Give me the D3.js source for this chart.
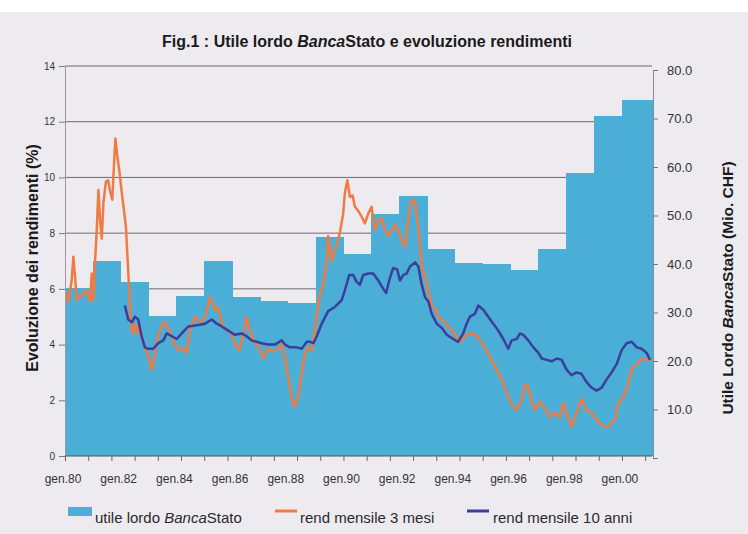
<!DOCTYPE html>
<html>
<head>
<meta charset="utf-8">
<script src="https://cdn.jsdelivr.net/npm/d3@7/dist/d3.min.js"></script>
<style>
  html, body { margin: 0; padding: 0; background: #efecf1; }
  svg { display: block; }
</style>
</head>
<body>
<svg id="chart" width="748" height="534"></svg>
<script>
// ---------- DATA ----------
const barYears = [1980,1981,1982,1983,1984,1985,1986,1987,1988,1989,1990,1991,1992,1993,1994,1995,1996,1997,1998,1999,2000];
const utileLordo = [35.1,40.6,36.3,29.3,33.4,40.6,33.2,32.4,32.0,45.6,42.1,50.3,54.0,43.1,40.2,40.0,38.8,43.1,58.8,70.5,73.8];

const r3Time = [1980.04,1980.12,1980.24,1980.30,1980.36,1980.42,1980.54,1980.66,1980.78,1980.84,1980.90,1980.96,
  1981.02,1981.08,1981.14,1981.20,1981.26,1981.32,1981.38,1981.47,1981.55,1981.62,1981.70,1981.76,1981.81,1981.88,1981.95,
  1982.04,1982.12,1982.19,1982.25,1982.30,1982.36,1982.43,1982.51,1982.60,1982.69,1982.79,1982.91,
  1983.03,1983.11,1983.20,1983.29,1983.41,1983.53,1983.65,1983.77,1983.91,
  1984.07,1984.23,1984.37,1984.49,1984.67,1984.85,
  1985.03,1985.21,1985.39,1985.49,1985.67,1985.92,
  1986.10,1986.25,1986.39,1986.52,1986.64,1986.82,
  1987.00,1987.11,1987.29,1987.47,1987.65,1987.78,1987.90,
  1988.01,1988.14,1988.23,1988.37,1988.50,1988.62,1988.73,1988.86,1988.98,
  1989.16,1989.26,1989.40,1989.45,1989.58,1989.62,1989.76,1989.87,1989.99,
  1990.05,1990.14,1990.23,1990.33,1990.41,1990.53,1990.65,1990.77,1990.89,
  1991.01,1991.13,1991.25,1991.37,1991.49,1991.61,1991.73,1991.85,1991.97,
  1992.09,1992.21,1992.33,1992.45,1992.57,1992.69,1992.81,1992.93,
  1993.05,1993.17,1993.29,1993.40,1993.53,1993.65,1993.94,
  1994.18,1994.42,1994.66,1994.90,
  1995.08,1995.26,1995.50,1995.68,1995.86,
  1996.04,1996.22,1996.40,1996.52,1996.64,1996.76,1996.88,
  1997.06,1997.24,1997.42,1997.59,1997.77,1997.89,
  1998.01,1998.19,1998.37,1998.55,1998.73,1998.91,
  1999.03,1999.21,1999.39,1999.57,1999.75,1999.87,
  2000.05,2000.23,2000.35,2000.53,2000.77,2000.94,2001.01];
const r3Val = [5.85,5.55,6.3,7.15,6.45,5.6,5.7,5.85,5.95,5.7,5.55,6.55,
  5.6,7.0,8.1,9.55,8.45,7.8,9.1,9.85,9.9,9.5,9.2,10.5,11.4,10.75,10.25,
  9.45,8.8,8.2,7.0,6.1,4.9,4.4,4.75,4.4,4.65,4.15,3.8,
  3.45,3.1,3.45,4.15,4.5,4.8,4.75,4.4,4.05,
  3.8,3.9,3.7,4.6,5.0,4.8,
  5.0,5.7,5.25,5.35,4.65,4.45,
  4.05,3.8,4.3,5.0,4.5,4.05,
  3.85,3.5,3.85,3.75,3.85,4.0,3.55,
  2.85,2.1,1.75,2.1,2.95,3.7,3.9,3.8,4.6,
  5.85,6.1,7.0,7.9,7.0,7.15,7.6,8.0,8.7,
  9.45,9.9,9.3,9.35,8.95,8.8,8.6,8.35,8.7,
  8.95,8.1,8.45,8.55,8.1,7.9,8.1,8.3,8.1,
  7.75,7.5,8.55,9.2,9.15,8.2,6.8,6.45,
  5.9,5.35,5.3,5.0,4.9,4.75,4.45,
  4.1,4.35,4.4,4.15,
  3.9,3.55,3.1,2.75,2.25,
  1.85,1.65,2.0,2.55,2.5,1.9,1.65,
  1.95,1.7,1.4,1.55,1.4,1.9,
  1.55,1.05,1.55,2.05,1.65,1.55,
  1.4,1.15,1.05,1.1,1.3,1.9,
  2.1,2.6,3.1,3.3,3.5,3.45,3.4];

const r10Time = [1982.15,1982.27,1982.40,1982.51,1982.63,1982.75,1982.87,1982.99,
  1983.17,1983.35,1983.53,1983.65,1983.83,
  1984.01,1984.19,1984.43,1984.79,
  1985.03,1985.27,1985.45,1985.63,1985.86,
  1986.10,1986.34,1986.52,1986.70,1986.88,
  1987.06,1987.30,1987.54,1987.78,1987.90,
  1988.08,1988.32,1988.50,1988.68,1988.80,1988.92,
  1989.04,1989.22,1989.45,1989.69,1989.94,
  1990.05,1990.21,1990.35,1990.47,1990.59,1990.71,1990.89,
  1991.07,1991.25,1991.43,1991.53,1991.67,1991.79,1991.93,
  1992.03,1992.15,1992.27,1992.39,1992.57,1992.69,1992.81,1992.93,
  1993.05,1993.17,1993.35,1993.53,1993.71,1993.94,
  1994.12,1994.30,1994.42,1994.54,1994.72,1994.84,
  1995.02,1995.20,1995.38,1995.56,1995.74,1995.92,
  1996.04,1996.22,1996.34,1996.46,1996.64,1996.82,
  1997.00,1997.12,1997.30,1997.48,1997.66,1997.84,
  1998.01,1998.19,1998.37,1998.55,1998.73,1998.91,
  1999.09,1999.27,1999.45,1999.63,1999.81,1999.99,
  2000.17,2000.35,2000.53,2000.71,2000.89,2001.01];
const r10Val = [5.4,4.9,4.8,5.0,4.9,4.3,3.9,3.85,
  3.85,4.05,4.15,4.4,4.3,
  4.2,4.4,4.65,4.7,
  4.75,4.9,4.75,4.65,4.5,
  4.35,4.4,4.3,4.15,4.1,
  4.05,4.0,4.0,4.15,4.0,
  3.9,3.9,3.85,4.1,4.1,4.05,
  4.3,4.75,5.2,5.35,5.6,
  5.95,6.5,6.5,6.25,6.15,6.5,6.55,
  6.55,6.3,6.0,5.85,6.4,6.75,6.7,
  6.3,6.5,6.55,6.8,6.95,6.8,6.15,5.7,
  5.55,5.1,4.75,4.6,4.35,4.2,
  4.1,4.4,4.75,5.0,5.1,5.4,
  5.25,5.0,4.75,4.5,4.2,3.85,
  4.15,4.2,4.4,4.35,4.15,3.9,
  3.7,3.5,3.45,3.4,3.5,3.45,
  3.1,2.9,3.0,2.95,2.65,2.45,
  2.35,2.45,2.75,3.0,3.3,3.8,
  4.05,4.1,3.9,3.85,3.7,3.45];

const leftTicks = [0,2,4,6,8,10,12,14];
const rightTicks = [10,20,30,40,50,60,70,80];
const xLabelYears = [1980,1982,1984,1986,1988,1990,1992,1994,1996,1998,2000];
const xLabels = ["gen.80","gen.82","gen.84","gen.86","gen.88","gen.90","gen.92","gen.94","gen.96","gen.98","gen.00"];

// ---------- CHART ----------
const FONT = "Liberation Sans, Arial, sans-serif";
const svg = d3.select("#chart");
const W = 748, H = 534;
const plot = {left: 65, right: 652, top: 66, bottom: 456};

svg.append("rect").attr("width", W).attr("height", H).attr("fill", "#eeebf0");
svg.append("rect").attr("width", W).attr("height", 12).attr("fill", "#ffffff");

const x = d3.scaleLinear().domain([1980, 2001.08]).range([plot.left, plot.right]);
const yL = d3.scaleLinear().domain([0, 14]).range([plot.bottom, plot.top]);
const yR = d3.scaleLinear().domain([0, 80]).range([458, 70]);

// title
const title = svg.append("text")
  .attr("x", 367).attr("y", 47).attr("text-anchor", "middle")
  .attr("font-family", FONT).attr("font-weight", "bold")
  .attr("font-size", 16).attr("fill", "#1a1a1a");
title.append("tspan").text("Fig.1 : Utile lordo ");
title.append("tspan").attr("font-style", "italic").text("Banca");
title.append("tspan").text("Stato e evoluzione rendimenti");

// gridlines
svg.append("g").selectAll("line").data(leftTicks.filter(d => d > 0)).join("line")
  .attr("x1", plot.left).attr("x2", plot.right)
  .attr("y1", d => yL(d)).attr("y2", d => yL(d))
  .attr("stroke", "#6a6a6a").attr("stroke-width", 1);

// bars
svg.append("g").attr("shape-rendering", "crispEdges")
  .selectAll("rect").data(barYears).join("rect")
  .attr("x", d => x(d))
  .attr("width", (d, i) => (i === barYears.length - 1 ? plot.right : x(d + 1)) - x(d) + 0.6)
  .attr("y", (d, i) => yR(utileLordo[i]))
  .attr("height", (d, i) => plot.bottom - yR(utileLordo[i]))
  .attr("fill", "#4aaed6");

// lines
const line = d3.line().x(d => x(d[0])).y(d => yL(d[1])).curve(d3.curveLinear);
svg.append("path").datum(r3Time.map((t, i) => [t, r3Val[i]]))
  .attr("d", line).attr("fill", "none").attr("stroke", "#f07a42")
  .attr("stroke-width", 2.5).attr("stroke-linejoin", "round");
svg.append("path").datum(r10Time.map((t, i) => [t, r10Val[i]]))
  .attr("d", line).attr("fill", "none").attr("stroke", "#3d3d9c")
  .attr("stroke-width", 2.5).attr("stroke-linejoin", "round");

// left axis
const gL = svg.append("g").attr("transform", `translate(${plot.left},0)`)
  .call(d3.axisLeft(yL).tickValues(leftTicks).tickSize(6).tickFormat(d3.format("d")));
gL.select(".domain").attr("stroke", "#9a9aa6");
gL.selectAll(".tick line").attr("stroke", "#777");
gL.selectAll("text").attr("font-family", FONT)
  .attr("font-size", 10).attr("fill", "#333").attr("x", -10);

// right axis
const gR = svg.append("g").attr("transform", `translate(${plot.right + 1},0)`)
  .call(d3.axisRight(yR).tickValues([0].concat(rightTicks)).tickSize(5).tickFormat(d => d === 0 ? "" : d3.format(".1f")(d)));
gR.select(".domain").attr("stroke", "#8a8a96");
gR.selectAll(".tick line").attr("stroke", "#777");
gR.selectAll("text").attr("font-family", FONT)
  .attr("font-size", 13).attr("fill", "#333").attr("x", 14);

// bottom axis
const tickTimes = d3.range(0, 21.1, 10 / 12).map(d => 1980 + d);
const gB = svg.append("g").attr("transform", `translate(0,${plot.bottom})`)
  .call(d3.axisBottom(x).tickValues(tickTimes).tickSize(5).tickFormat(""));
gB.select(".domain").attr("stroke", "#555").attr("d", `M${plot.left},0H${plot.right}`);
gB.selectAll(".tick line").attr("stroke", "#666");

svg.append("g").selectAll("text").data(xLabelYears).join("text")
  .attr("x", d => x(d) - 2).attr("y", 483).attr("text-anchor", "middle")
  .attr("font-family", FONT).attr("font-size", 12)
  .attr("fill", "#333").text((d, i) => xLabels[i]);

// axis titles
svg.append("text").attr("transform", "translate(38,258) rotate(-90)")
  .attr("text-anchor", "middle").attr("font-family", FONT)
  .attr("font-weight", "bold").attr("font-size", 16).attr("fill", "#1a1a1a")
  .text("Evoluzione dei rendimenti (%)");

const rt = svg.append("text").attr("transform", "translate(733,288) rotate(-90)")
  .attr("text-anchor", "middle").attr("font-family", FONT)
  .attr("font-weight", "bold").attr("font-size", 15.5).attr("fill", "#1a1a1a");
rt.append("tspan").text("Utile Lordo ");
rt.append("tspan").attr("font-style", "italic").text("Banca");
rt.append("tspan").text("Stato (Mio. CHF)");

// legend
const lg = svg.append("g").attr("font-family", FONT)
  .attr("font-size", 15).attr("fill", "#2a2a2a");
lg.append("rect").attr("x", 68).attr("y", 507).attr("width", 24).attr("height", 9).attr("fill", "#4aaed6");
const t1 = lg.append("text").attr("x", 95).attr("y", 523);
t1.append("tspan").text("utile lordo ");
t1.append("tspan").attr("font-style", "italic").text("Banca");
t1.append("tspan").text("Stato");
lg.append("line").attr("x1", 275).attr("x2", 297).attr("y1", 511).attr("y2", 511)
  .attr("stroke", "#f07a42").attr("stroke-width", 3);
lg.append("text").attr("x", 300).attr("y", 523).text("rend mensile 3 mesi");
lg.append("line").attr("x1", 467).attr("x2", 489).attr("y1", 511).attr("y2", 511)
  .attr("stroke", "#3d3d9c").attr("stroke-width", 3);
lg.append("text").attr("x", 493).attr("y", 523).text("rend mensile 10 anni");
</script>
</body>
</html>
